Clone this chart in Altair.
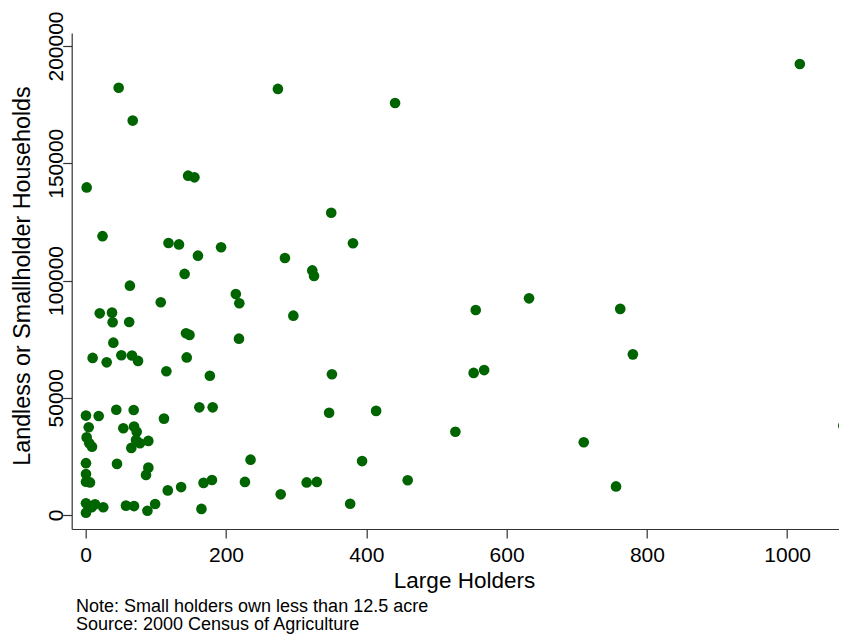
import altair as alt
import pandas as pd

# Large holders (x) and landless / smallholder households (y)
large_holders = [
    47, 67, 1.4, 146, 155, 274, 24, 118, 133, 160, 193, 284,
    141, 323, 325.5, 63, 107, 214, 219, 20, 37.5, 38.4, 62, 296,
    143, 148, 218.5, 39.4, 9.9, 29.9, 50.8, 66, 74.6, 144, 115, 177,
    162, 181, 0.4, 18.5, 43.6, 68.4, 111.6, 4.3, 1.4, 5.1, 9,
    53.6, 68.9, 72.7, 71.7, 77.4, 89.3, 65, 235, 0.4, 0.4, 0.4, 6.1,
    44.6, 89.3, 86, 117, 136, 168, 180, 227, 278, 315, 329.5,
    0.4, 0.4, 13.3, 8.5, 25, 57.4, 68.9, 88, 99, 165,
    441, 350, 381, 556, 632, 553, 568, 351, 347, 414, 527, 394, 459, 377,
    1018, 762, 780, 1080, 710, 756,
]
landless_households = [
    182200, 168200, 139700, 144700, 144000, 181700, 118900, 116000, 115400, 110600, 114200, 109600,
    102800, 104300, 101900, 97800, 90700, 94200, 90300, 86000, 86300, 82200, 82300, 85000,
    77500, 76800, 75200, 73500, 67000, 65100, 68100, 68000, 65700, 67200, 61300, 59400,
    45900, 45900, 42400, 42200, 44900, 44800, 41100, 37400, 33100, 30600, 29100,
    37000, 37700, 35500, 32000, 30600, 31600, 28600, 23600, 22100, 17500, 14200, 13900,
    21800, 20200, 17100, 10500, 11900, 13700, 14900, 14100, 8800, 13900, 14100,
    5000, 1000, 4600, 3300, 3300, 4000, 3800, 1800, 4700, 2600,
    175700, 128900, 115900, 87400, 92400, 60600, 61800, 60000, 43600, 44400, 35500, 23000, 14800, 4800,
    192300, 87900, 68500, 38100, 31000, 12200,
]

x_ticks = [0, 200, 400, 600, 800, 1000]
y_ticks = [0, 50000, 100000, 150000, 200000]

x_title = "Large Holders"
y_title = "Landless or Smallholder Households"
note_lines = ["Note: Small holders own less than 12.5 acre",
              "Source: 2000 Census of Agriculture"]

df = pd.DataFrame({"large": large_holders, "landless": landless_households})

FONT = "Liberation Sans"
AXIS_COLOR = "#333333"

x_axis = alt.Axis(
    values=x_ticks, format="d", title=x_title, grid=False,
    labelFont=FONT, labelFontSize=21, labelColor="black",
    labelBaseline="alphabetic", labelPadding=23, labelFlush=False, labelOverlap=False,
    tickSize=9, tickColor=AXIS_COLOR, tickWidth=1.2,
    domainColor=AXIS_COLOR, domainWidth=1.2,
    titleFont=FONT, titleFontSize=22.5, titleFontWeight="normal", titleColor="black",
    titleX=392.3, titleY=58.5, titleAlign="center", titleBaseline="alphabetic",
)
y_axis = alt.Axis(
    values=y_ticks, format="d", title=y_title, grid=False,
    labelFont=FONT, labelFontSize=21, labelColor="black",
    labelAngle=270, labelAlign="center", labelBaseline="alphabetic",
    labelPadding=0.5, labelFlush=False, labelOverlap=False,
    tickSize=9, tickColor=AXIS_COLOR, tickWidth=1.2,
    domainColor=AXIS_COLOR, domainWidth=1.2,
    titleFont=FONT, titleFontSize=23.3, titleFontWeight="normal", titleColor="black",
    titleAngle=270, titleX=-42.2, titleY=242.5, titleAlign="center", titleBaseline="alphabetic",
)

points = alt.Chart(df).mark_circle(size=113, color="#006400", opacity=1, clip=True).encode(
    x=alt.X("large:Q", axis=x_axis,
            scale=alt.Scale(domain=[-19.96, 1073.86], nice=False, zero=False)),
    y=alt.Y("landless:Q", axis=y_axis,
            scale=alt.Scale(domain=[-5970, 205544], nice=False, zero=False)),
)

# both note lines in one multi-line text mark
notes = alt.Chart(pd.DataFrame({"k": [0]})).mark_text(
    text=note_lines, align="left", baseline="alphabetic", font=FONT,
    fontSize=18, lineHeight=18, color="black"
).encode(x=alt.value(4.3), y=alt.value(579))

chart = alt.layer(points, notes).properties(
    width=767.3, height=496,
    autosize=alt.AutoSizeParams(type="none"),
    padding={"left": 63.7, "top": 25, "right": 0, "bottom": 108},
    background="white",
).configure_view(stroke=None)

chart.save("out.html", embed_options={"renderer": "svg", "actions": False})
